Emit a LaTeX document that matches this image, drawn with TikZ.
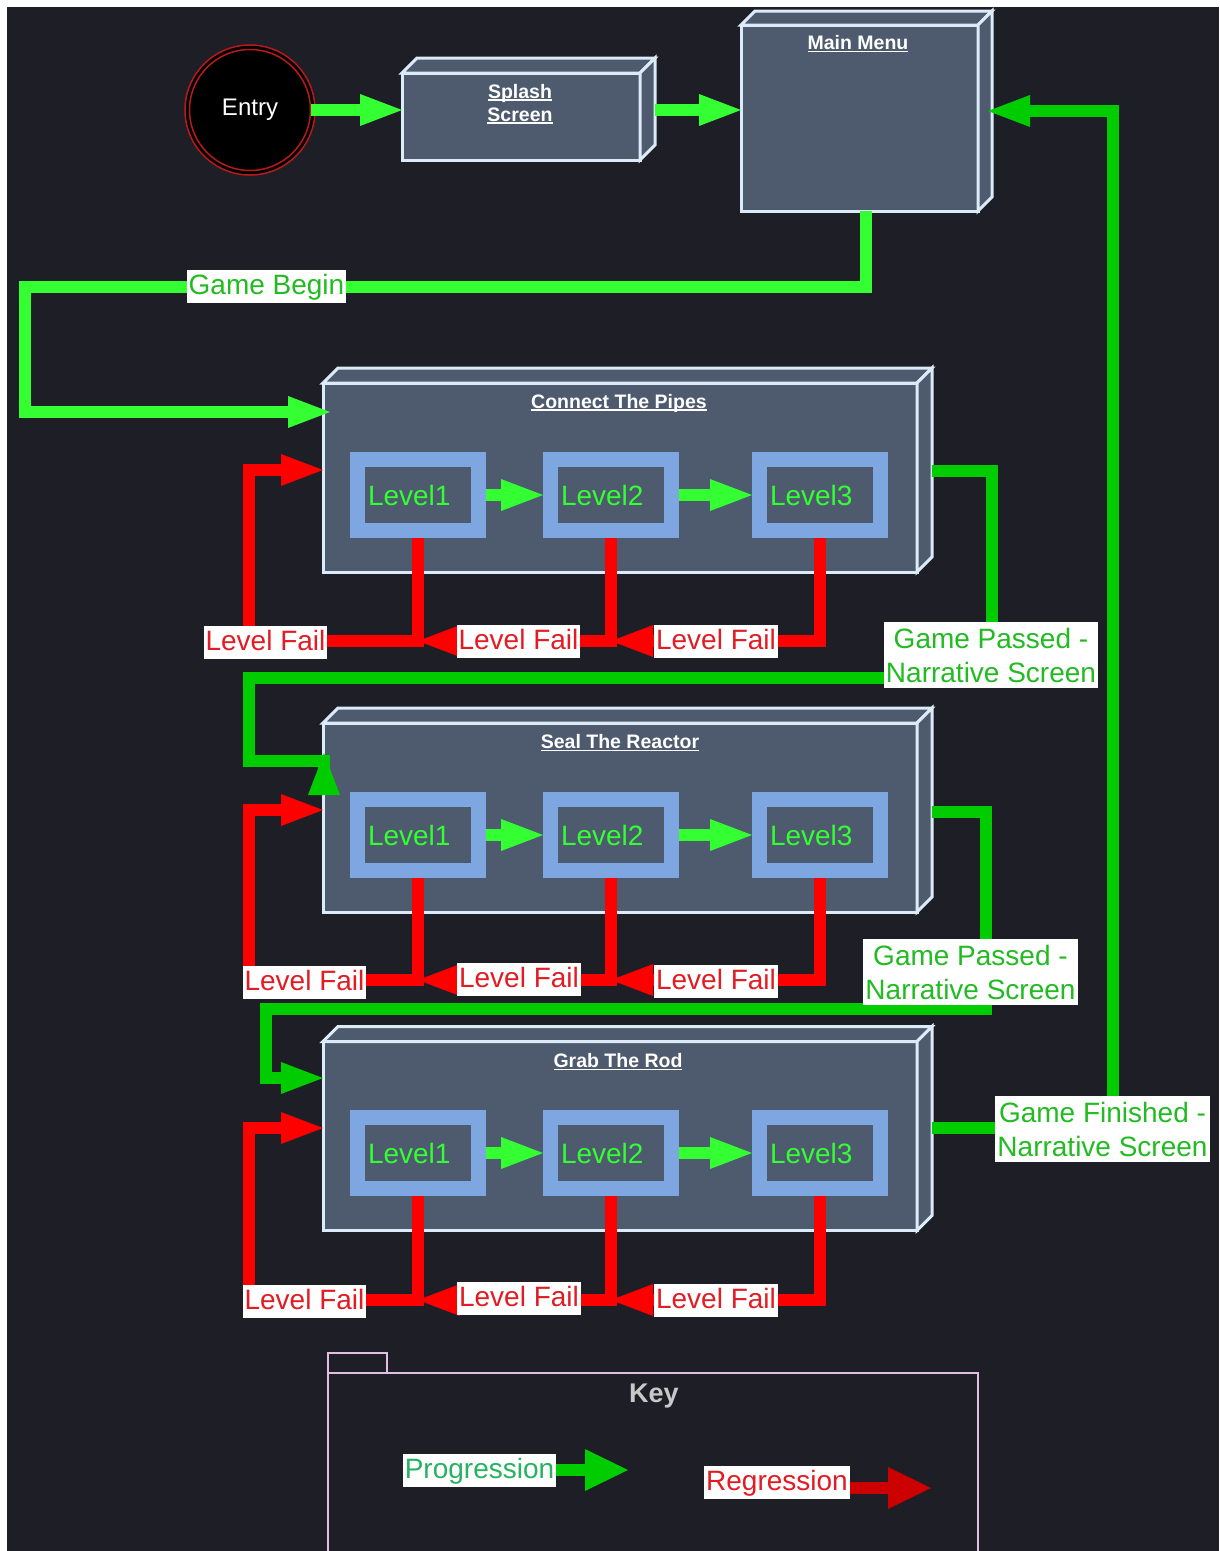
\documentclass[tikz,border=0pt]{standalone}
\usepackage{fontspec}
\setmainfont{Liberation Sans}
\usetikzlibrary{arrows.meta,calc}

\definecolor{bg}{RGB}{30,31,38}
\definecolor{cubefill}{RGB}{78,90,110}
\definecolor{cubeedge}{RGB}{220,235,248}
\definecolor{lvlblue}{RGB}{126,166,224}
\definecolor{limeg}{RGB}{51,255,51}
\definecolor{dkgreen}{RGB}{0,204,0}
\definecolor{failred}{RGB}{255,0,0}
\definecolor{lbgreen}{RGB}{34,187,34}
\definecolor{lbred}{RGB}{226,28,36}
\definecolor{keypink}{RGB}{226,190,226}
\definecolor{keygray}{RGB}{200,200,200}
\definecolor{progtext}{RGB}{38,178,96}
\definecolor{keyred}{RGB}{204,0,0}
\definecolor{entryred}{RGB}{185,25,25}

\newcommand\ulbox[1]{\leavevmode\setbox0\hbox{#1}\rlap{\rule[-2.6pt]{\wd0}{1.6pt}}\box0}
\newcommand\cubesides[2]{%
  \draw[cubeside] (#1.north west) -- ([shift={(#2,-#2)}]#1.north west) -- ([shift={(#2,-#2)}]#1.north east) -- (#1.north east) -- cycle;
  \draw[cubeside] (#1.north east) -- ([shift={(#2,-#2)}]#1.north east) -- ([shift={(#2,-#2)}]#1.south east) -- (#1.south east) -- cycle;
}

\tikzset{
  cubefront/.style={rectangle, draw=cubeedge, fill=cubefill, line width=3pt, inner sep=0pt, outer sep=0pt},
  cubeside/.style={draw=cubeedge, fill=cubefill, line width=3pt},
  boxtitle/.style={text=white, font=\bfseries\fontsize{19.5}{23}\selectfont, align=center, inner sep=0pt},
  lvl/.style={rectangle, draw=lvlblue, fill=cubefill, line width=15pt, minimum width=121pt, minimum height=71pt, inner sep=0pt, text width=100pt, align=left, text=limeg, font=\fontsize{28}{34}\selectfont},
  labone/.style={fill=white, inner xsep=2pt, inner ysep=2.5pt, text height=22pt, text depth=6pt, font=\fontsize{28}{34}\selectfont},
  labtwo/.style={fill=white, inner xsep=2pt, inner ysep=2pt, minimum height=66pt, align=center, font=\fontsize{28}{34}\selectfont},
  conn/.style={line width=12pt, -{Triangle[length=42pt,width=32pt,line width=0pt]}},
  keyconn/.style={line width=12pt, -{Triangle[length=43pt,width=42pt,line width=0pt]}},
}

\begin{document}
\begin{tikzpicture}[x=1pt,y=-1pt]
\useasboundingbox (0,0) rectangle (1219,1551);
\fill[white] (0,0) rectangle (1219,1551);
\fill[bg] (7,7) rectangle (1219,1551);

% Entry
\coordinate (entryc) at (250,110);
\draw[entryred, fill=black, line width=1.5pt] (entryc) circle [radius=65pt];
\node[circle, fill=black, draw=entryred, line width=1.5pt, minimum size=121pt, inner sep=0pt, text=white, font=\fontsize{24}{28}\selectfont] (entry) at (entryc) {Entry};

% Splash
\node[cubefront, minimum width=238pt, minimum height=87pt] (splash) at (521,116.5) {};
\cubesides{splash}{15}
\node[boxtitle] (splasht) at (520,104) {\ulbox{Splash}\\\ulbox{Screen}};

% Main menu
\node[cubefront, minimum width=237pt, minimum height=186pt] (menu) at (859.5,118) {};
\cubesides{menu}{14}
\node[boxtitle] (menut) at (858,44) {\ulbox{Main Menu}};

% Group boxes
\node[cubefront, minimum width=594pt, minimum height=189pt] (cp) at (620,477.5) {};
\cubesides{cp}{15}
\node[boxtitle] (cpt) at (619,403) {\ulbox{Connect The Pipes}};

\node[cubefront, minimum width=594pt, minimum height=189pt] (sr) at (620,817.5) {};
\cubesides{sr}{15}
\node[boxtitle] (srt) at (620,743) {\ulbox{Seal The Reactor}};

\node[cubefront, minimum width=594pt, minimum height=189pt] (gr) at (620,1136) {};
\cubesides{gr}{15}
\node[boxtitle] (grt) at (618,1062) {\ulbox{Grab The Rod}};

% Levels
\node[lvl] (a1) at (418,495) {Level1};
\node[lvl] (a2) at (611,495) {Level2};
\node[lvl] (a3) at (820,495) {Level3};
\node[lvl] (b1) at (418,835) {Level1};
\node[lvl] (b2) at (611,835) {Level2};
\node[lvl] (b3) at (820,835) {Level3};
\node[lvl] (c1) at (418,1153) {Level1};
\node[lvl] (c2) at (611,1153) {Level2};
\node[lvl] (c3) at (820,1153) {Level3};

% Coordinates
\coordinate (splashout) at ([xshift=15pt]splash.east);
\coordinate (menuout) at ([xshift=6.5pt]menu.south);
\coordinate (gbl) at (25,287);
\coordinate (gbin) at (330,412);
\coordinate (fa) at (249,641);
\coordinate (fb) at (249,980);
\coordinate (fc) at (249,1300);
\coordinate (ra) at (249,470);
\coordinate (rb) at (249,810);
\coordinate (rc) at (249,1128);
\coordinate (cpout) at (932,471);
\coordinate (g1a) at (992,678);
\coordinate (g1b) at (249,761);
\coordinate (g1c) at (324,761);
\coordinate (g1d) at (324,753);
\coordinate (srout) at (932,812);
\coordinate (g2a) at (986,1009);
\coordinate (g2b) at (266,1078);
\coordinate (grout) at (932,1128);
\coordinate (g3a) at (1113,111);
\coordinate (menuin) at (988,111);

% Progression connectors
\draw[conn, limeg] (entry.east) -- (entry.east -| splash.west);
\draw[conn, limeg] (splashout |- entry.east) -- (menu.west |- entry.east);
\draw[conn, limeg] (menuout) |- (gbl) |- (gbin);
\draw[conn, limeg] (a1) -- (a2);
\draw[conn, limeg] (a2) -- (a3);
\draw[conn, limeg] (b1) -- (b2);
\draw[conn, limeg] (b2) -- (b3);
\draw[conn, limeg] (c1) -- (c2);
\draw[conn, limeg] (c2) -- (c3);

\draw[conn, dkgreen] (cpout) -| (g1a) -| (g1b) -- (g1c) -- (g1d);
\draw[conn, dkgreen] (srout) -| (g2a) -| (g2b) -- (gr.west |- g2b);
\draw[conn, dkgreen] (grout) -| (g3a) -- (menuin);

% Fail connectors
\draw[conn, failred] (a3.south) |- (a2.south |- fa);
\draw[conn, failred] (a2.south) |- (a1.south |- fa);
\draw[conn, failred] (a1.south) |- (fa) -- (ra) -- (cp.west |- ra);
\draw[conn, failred] (b3.south) |- (b2.south |- fb);
\draw[conn, failred] (b2.south) |- (b1.south |- fb);
\draw[conn, failred] (b1.south) |- (fb) -- (rb) -- (sr.west |- rb);
\draw[conn, failred] (c3.south) |- (c2.south |- fc);
\draw[conn, failred] (c2.south) |- (c1.south |- fc);
\draw[conn, failred] (c1.south) |- (fc) -- (rc) -- (gr.west |- rc);

% Labels
\node[labone, text=lbgreen] (gbeg) at (266.5,286.5) {Game Begin};
\node[labone, text=lbred] (fa1) at (265.5,642) {Level Fail};
\node[labone, text=lbred] (fa2) at (518.5,641) {Level Fail};
\node[labone, text=lbred] (fa3) at (716,641) {Level Fail};
\node[labone, text=lbred] (fb1) at (304.5,982) {Level Fail};
\node[labone, text=lbred] (fb2) at (519,979) {Level Fail};
\node[labone, text=lbred] (fb3) at (716,981) {Level Fail};
\node[labone, text=lbred] (fc1) at (304.5,1301) {Level Fail};
\node[labone, text=lbred] (fc2) at (519,1298) {Level Fail};
\node[labone, text=lbred] (fc3) at (716,1300) {Level Fail};
\node[labtwo, text=lbgreen] (gp1) at (991,655) {Game Passed -\\Narrative Screen};
\node[labtwo, text=lbgreen] (gp2) at (970.5,972) {Game Passed -\\Narrative Screen};
\node[labtwo, text=lbgreen] (gfin) at (1102.5,1129) {Game Finished -\\Narrative Screen};

% Key
\draw[keypink, line width=2pt] (328,1560) -- (328,1373) -- (978,1373) -- (978,1560);
\draw[keypink, line width=2pt] (328,1373) -- (328,1353) -- (387,1353) -- (387,1373);
\node[text=keygray, font=\bfseries\fontsize{27}{30}\selectfont] (keyt) at (654,1396) {Key};
\node[labone, text=progtext] (progl) at (479.5,1470) {Progression};
\coordinate (progend) at (628,1470);
\draw[keyconn, dkgreen] (progl.east) -- (progend);
\node[labone, text=lbred] (regl) at (777,1482) {Regression};
\coordinate (regend) at (931,1488);
\draw[keyconn, keyred] (regl.east |- regend) -- (regend);
\end{tikzpicture}
\end{document}
